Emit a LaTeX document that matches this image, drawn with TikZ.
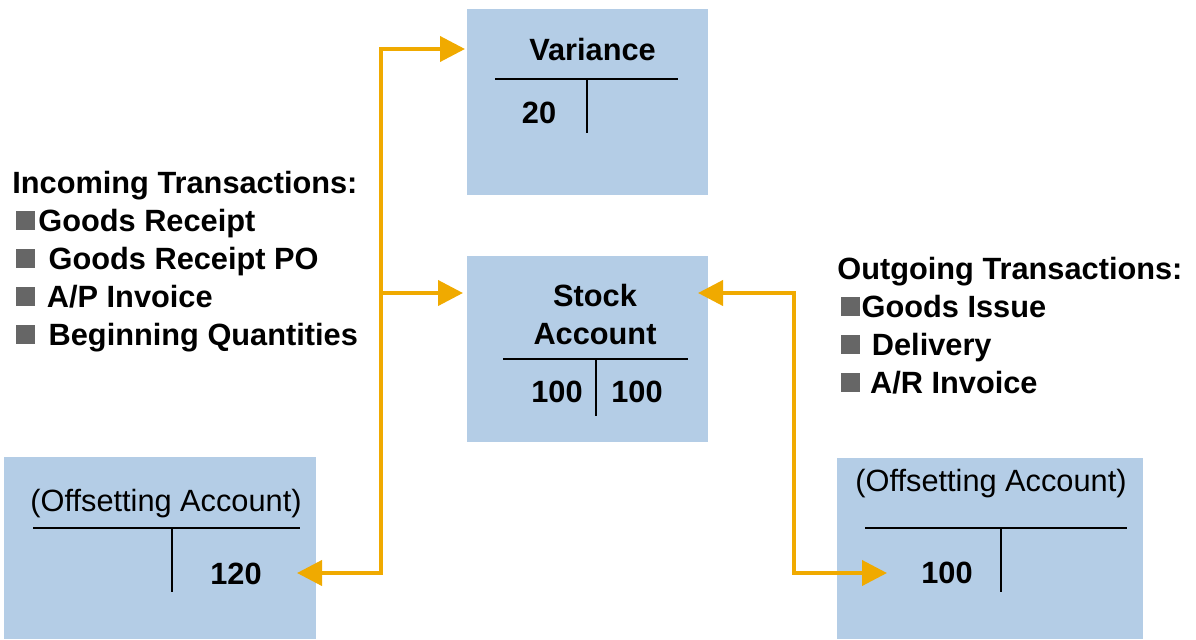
\documentclass[tikz,border=0pt]{standalone}
\usepackage{fontspec}
\setmainfont{Liberation Sans}
\usepackage{tikz}
\usetikzlibrary{positioning,arrows.meta}

\definecolor{acctblue}{HTML}{B4CDE6}
\definecolor{flowor}{HTML}{F0AA00}
\definecolor{bulgray}{HTML}{666666}
\newcommand{\sqb}{\textcolor{bulgray}{\rule[0.03cm]{0.38cm}{0.38cm}}}

\begin{document}
\begin{tikzpicture}[x=0.02cm, y=-0.02cm,
    every node/.style={font=\fontsize{17.5}{21.6}\selectfont\bfseries, inner sep=0pt},
    acct/.style={rectangle, fill=acctblue, draw=none},
    tline/.style={line width=1.4pt, black},
    flow/.style={line width=0.08cm, flowor, arrows={Triangle[length=0.5cm, width=0.5cm]-Triangle[length=0.5cm, width=0.5cm]}},
    flowin/.style={line width=0.08cm, flowor, -{Triangle[length=0.5cm, width=0.5cm]}}]
        \useasboundingbox (0,0) rectangle (1196,639);
        % accounts
        \node[acct, minimum width=4.82cm, minimum height=3.72cm] (variance) at (587.5,102) {};
        \node[acct, minimum width=4.82cm, minimum height=3.72cm] (stock) at (587.5,349) {};
        \node[acct, minimum width=6.24cm, minimum height=3.64cm] (offleft) at (160,548) {};
        \node[acct, minimum width=6.12cm, minimum height=3.62cm] (offright) at (990,548.5) {};
        % variance
        \node[anchor=base] (vtitle) at (592.5,60) {Variance};
        \draw[tline] (495,79) -- (678,79);
        \draw[tline] (587,79) -- (587,133);
        \node[anchor=base] (vdebit) at (539,123) {20};
        % stock account (base = last line)
        \node[anchor=base, align=center] (stitle) at (595,344) {Stock\\Account};
        \draw[tline] (503,359) -- (688,359);
        \draw[tline] (596,359) -- (596,416);
        \node[anchor=base] (sdebit) at (557,402) {100};
        \node[anchor=base] (scredit) at (637,402) {100};
        % offsetting accounts
        \node[anchor=base, font=\fontsize{17.5}{21.6}\selectfont] (ltitle) at (166,511) {(Offsetting Account)};
        \draw[tline] (33,528) -- (300,528);
        \draw[tline] (172,528) -- (172,592);
        \node[anchor=base] (lcredit) at (236,584) {120};
        \node[anchor=base, font=\fontsize{17.5}{21.6}\selectfont] (rtitle) at (991,491) {(Offsetting Account)};
        \draw[tline] (865,528) -- (1127,528);
        \draw[tline] (1001,528) -- (1001,592);
        \node[anchor=base] (rdebit) at (947,583) {100};
        % transaction lists
        \node[anchor=base west, align=left] (incoming) at (12,345)
            {Incoming Transactions:\\ \kern2pt\sqb\kern2pt Goods Receipt\\ \kern2pt\sqb\ \kern3pt Goods Receipt PO\\
             \kern2pt\sqb\ \kern2pt A/P Invoice\\ \kern2pt\sqb\ \kern3pt Beginning Quantities};
        \node[anchor=base west, align=left] (outgoing) at (837,393)
            {Outgoing Transactions:\\ \kern2pt\sqb\kern1pt Goods Issue\\ \kern2pt\sqb\ \kern2pt Delivery\\ \kern2pt\sqb\ \kern1pt A/R Invoice};
        % flows
        \coordinate (jtop) at (381,49);
        \coordinate (vin) at (465,49);
        \coordinate (lin) at (297,573);
        \coordinate (sin) at (463,293);
        \coordinate (jmid) at (jtop |- sin);
        \coordinate (sout) at (698,293);
        \coordinate (jright) at (794,293);
        \coordinate (rin) at (887,573);
        \draw[flow] (lin) -| (jtop) -- (vin);
        \draw[flowin] (jmid) -- (sin);
        \draw[flow] (sout) -- (jright) |- (rin);
    \end{tikzpicture}
\end{document}
